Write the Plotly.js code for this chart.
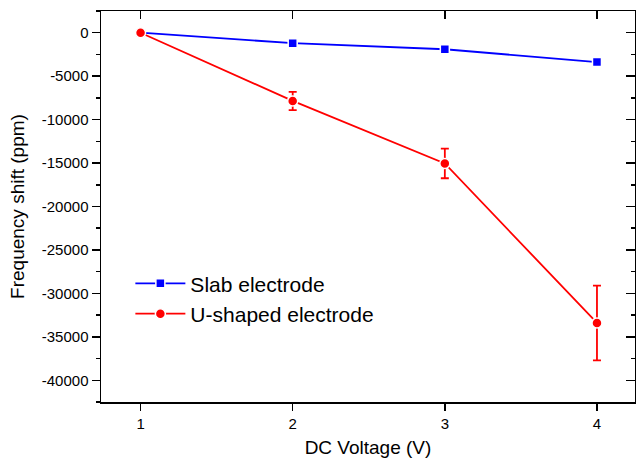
<!DOCTYPE html>
<html>
<head>
<meta charset="utf-8">
<script src="https://cdn.plot.ly/plotly-3.0.1.min.js"></script>
<style>html,body{margin:0;padding:0;background:#fff;}#chart{width:636px;height:460px;}</style>
</head>
<body>
<div id="chart"></div>
<script>
const voltage = [1, 2, 3, 4];
const slabShift = [0, -1200, -1900, -3380];
const uShift = [0, -7850, -15050, -33400];
const uError = [0, 1050, 1700, 4300];
const xTicks = [1, 2, 3, 4];
const yTicks = [0, -5000, -10000, -15000, -20000, -25000, -30000, -35000, -40000];

const font = 'Liberation Sans, Arial, sans-serif';

const traces = [
  {
    x: voltage, y: slabShift, name: 'Slab electrode', mode: 'lines+markers',
    line: {color: '#0000ff', width: 1.8},
    marker: {symbol: 'square', size: 9, color: '#0000ff', line: {color: '#ffffff', width: 1.5}}
  },
  {
    x: voltage, y: uShift, name: 'U-shaped electrode', mode: 'lines+markers',
    line: {color: '#ff0000', width: 1.8},
    marker: {symbol: 'circle', size: 10, color: '#ff0000', line: {color: '#ffffff', width: 1.5}},
    error_y: {type: 'data', array: uError, visible: true, color: '#ff0000', thickness: 1.8, width: 4}
  },
  {x: [], y: [], xaxis: 'x2', yaxis: 'y2', showlegend: false, hoverinfo: 'skip'}
];

const layout = {
  width: 636, height: 460,
  margin: {l: 101, r: 1, t: 11, b: 58},
  paper_bgcolor: '#fff', plot_bgcolor: '#fff',
  font: {family: font, color: '#000'},
  showlegend: true,
  legend: {
    x: 0.055, y: 0.355, xanchor: 'left', yanchor: 'top',
    bgcolor: 'rgba(0,0,0,0)', font: {size: 21, family: font},
    itemwidth: 50, traceorder: 'normal'
  },
  xaxis: {
    range: [0.74, 4.25], tickvals: xTicks, ticktext: xTicks.map(String),
    ticks: 'outside', ticklen: 7, tickwidth: 1.5, tickcolor: '#000',
    showline: true, linecolor: '#000', linewidth: 1.5, showgrid: false, zeroline: false,
    tickfont: {size: 15},
    title: {text: 'DC Voltage (V)', font: {size: 19}, standoff: 10}
  },
  yaxis: {
    range: [-42500, 2500], tickvals: yTicks, ticktext: yTicks.map(String),
    ticks: 'outside', ticklen: 8, tickwidth: 1.5, tickcolor: '#000',
    minor: {dtick: 2500, ticks: 'outside', ticklen: 4, tickwidth: 1.5, tickcolor: '#000', showgrid: false},
    showline: true, linecolor: '#000', linewidth: 1.5, showgrid: false, zeroline: false,
    tickfont: {size: 15},
    title: {text: 'Frequency shift (ppm)', font: {size: 19}, standoff: 12}
  },
  xaxis2: {
    overlaying: 'x', side: 'top', range: [0.74, 4.25], tickvals: xTicks,
    showticklabels: false, ticks: 'inside', ticklen: 8, tickwidth: 1.5, tickcolor: '#000',
    showline: true, linecolor: '#000', linewidth: 1.5, showgrid: false, zeroline: false
  },
  yaxis2: {
    overlaying: 'y', side: 'right', range: [-42500, 2500], tickvals: yTicks,
    showticklabels: false, ticks: 'inside', ticklen: 9, tickwidth: 1.5, tickcolor: '#000',
    minor: {dtick: 2500, ticks: 'inside', ticklen: 4, tickwidth: 1.5, tickcolor: '#000', showgrid: false},
    showline: true, linecolor: '#000', linewidth: 1.5, showgrid: false, zeroline: false
  }
};

Plotly.newPlot('chart', traces, layout, {displayModeBar: false, staticPlot: true});
</script>
</body>
</html>
